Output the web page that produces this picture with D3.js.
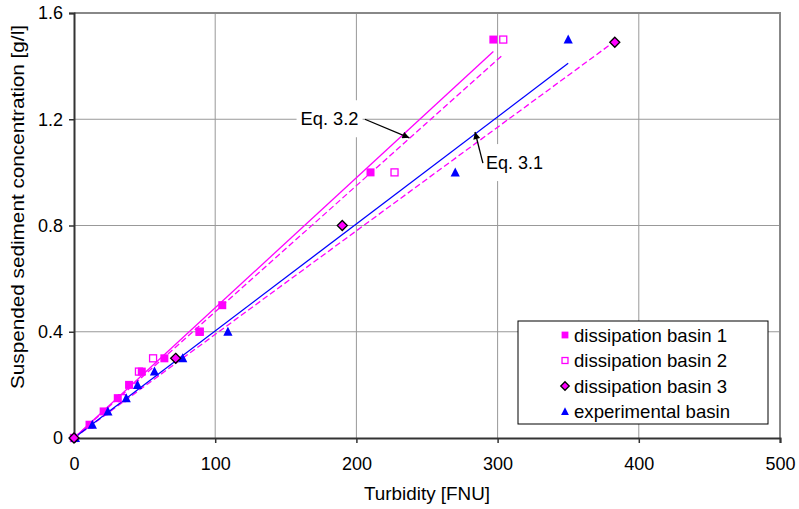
<!DOCTYPE html>
<html>
<head>
<meta charset="utf-8">
<script src="https://cdn.jsdelivr.net/npm/d3@7"></script>
<style>
  body { margin: 0; background: #fff; }
  text { font-family: "Liberation Sans", Arial, sans-serif; fill: #000; }
</style>
</head>
<body>
<div id="chart"></div>
<script>
// measured values
const basin1X = [0, 11, 21, 31, 39, 48, 64, 89, 105, 210, 297];
const basin1Y = [0, 0.05, 0.1, 0.15, 0.2, 0.25, 0.3, 0.4, 0.5, 1.0, 1.5];
const basin2X = [0, 34, 46, 56, 89, 227, 304];
const basin2Y = [0, 0.15, 0.25, 0.3, 0.4, 1.0, 1.5];
const basin3X = [0, 72, 190, 383];
const basin3Y = [0, 0.3, 0.8, 1.49];
const expX = [1, 13, 24, 37, 45, 57, 77, 109, 270, 350];
const expY = [0, 0.05, 0.1, 0.15, 0.2, 0.25, 0.3, 0.4, 1.0, 1.5];

const seriesNames = ["dissipation basin 1", "dissipation basin 2", "dissipation basin 3", "experimental basin"];

// trend lines y = slope * x, drawn from 0 to xMax
const trendSlope = [0.0049, 0.00475, 0.0039, 0.00403];
const trendXMax = [297, 304, 383, 350];

const xTicks = [0, 100, 200, 300, 400, 500];
const yTicks = [0, 0.4, 0.8, 1.2, 1.6];

// annotations: label, text pos, arrow tail, arrow tip (data units)
const eqLabels = ["Eq. 3.2", "Eq. 3.1"];
const eqText = [[181, 1.2], [312, 1.035]];
const eqTail = [[206, 1.2], [289.6, 1.035]];
const eqTip = [[237.5, 1.13], [284, 1.152]];

const width = 799, height = 509;
const margin = { left: 74, right: 19, top: 13, bottom: 71 };

const svg = d3.select("#chart").append("svg")
    .attr("width", width)
    .attr("height", height);

const x = d3.scaleLinear().domain([0, 500]).range([margin.left, width - margin.right]);
const y = d3.scaleLinear().domain([0, 1.6]).range([height - margin.bottom, margin.top]);

const MAG = "#ff00ff", BLUE = "#0000ff";

// grid
svg.append("g").selectAll("line").data(xTicks.slice(1))
    .enter().append("line")
    .attr("x1", d => x(d)).attr("x2", d => x(d))
    .attr("y1", y(0)).attr("y2", y(1.6))
    .attr("stroke", "#999").attr("stroke-width", 1);
svg.append("g").selectAll("line").data(yTicks.slice(1))
    .enter().append("line")
    .attr("x1", x(0)).attr("x2", x(500))
    .attr("y1", d => y(d)).attr("y2", d => y(d))
    .attr("stroke", "#999").attr("stroke-width", 1);

// top/right frame
svg.append("path")
    .attr("d", `M${x(0)},${y(1.6)}H${x(500)}V${y(0)}`)
    .attr("fill", "none").attr("stroke", "#888").attr("stroke-width", 2);

// axes
const xAxis = svg.append("g")
    .attr("transform", `translate(0,${y(0)})`)
    .call(d3.axisBottom(x).tickValues(xTicks).tickSize(5).tickPadding(14).tickFormat(d3.format("d")));
const yAxis = svg.append("g")
    .attr("transform", `translate(${x(0)},0)`)
    .call(d3.axisLeft(y).tickValues(yTicks).tickSize(5).tickPadding(6).tickFormat(d => d === 0 ? "0" : d3.format(".1f")(d)));
[xAxis, yAxis].forEach(g => {
    g.select(".domain").attr("stroke", "#333").attr("stroke-width", 2);
    g.selectAll(".tick line").attr("stroke", "#333").attr("stroke-width", 1.5);
    g.selectAll(".tick text").attr("font-size", 18).attr("fill", "#000")
        .style("font-family", '"Liberation Sans", Arial, sans-serif');
});

// axis titles
svg.append("text")
    .attr("x", (x(0) + x(500)) / 2).attr("y", 500)
    .attr("text-anchor", "middle").attr("font-size", 18)
    .attr("textLength", 126).attr("lengthAdjust", "spacingAndGlyphs")
    .text("Turbidity [FNU]");
svg.append("text")
    .attr("transform", `translate(24,207) rotate(-90)`)
    .attr("text-anchor", "middle").attr("font-size", 18.5)
    .attr("textLength", 364).attr("lengthAdjust", "spacingAndGlyphs")
    .text("Suspended sediment concentration [g/l]");

// trend lines
const trendColor = [MAG, MAG, MAG, BLUE];
const trendDash = [null, "6,3", "6,3", null];
const lineGen = d3.line().x(d => x(d[0])).y(d => y(d[1]));
trendSlope.forEach((s, i) => {
    svg.append("path")
        .attr("d", lineGen([[0, 0], [trendXMax[i], s * trendXMax[i]]]))
        .attr("fill", "none")
        .attr("stroke", trendColor[i])
        .attr("stroke-width", 1.3)
        .attr("stroke-dasharray", trendDash[i]);
});

// marker symbols
function drawMarker(g, kind, sc) {
    const s = sc || 1;
    if (kind === 0) {
        g.append("rect").attr("x", -4 * s).attr("y", -4 * s).attr("width", 8 * s).attr("height", 8 * s).attr("fill", MAG);
    } else if (kind === 1) {
        g.append("rect").attr("x", -3.5 * s).attr("y", -3.5 * s).attr("width", 7 * s).attr("height", 7 * s)
            .attr("fill", "#fff").attr("stroke", MAG).attr("stroke-width", 1.3);
    } else if (kind === 2) {
        g.append("path").attr("d", `M0,${-5 * s}L${5 * s},0L0,${5 * s}L${-5 * s},0Z`)
            .attr("fill", MAG).attr("stroke", "#000").attr("stroke-width", 1.3);
    } else {
        g.append("path").attr("d", `M0,${-5 * s}L${4.6 * s},${4 * s}L${-4.6 * s},${4 * s}Z`).attr("fill", BLUE);
    }
}

const seriesX = [basin1X, basin2X, basin3X, expX];
const seriesY = [basin1Y, basin2Y, basin3Y, expY];
[1, 0, 3, 2].forEach(k => {
    const pts = seriesX[k].map((v, i) => [v, seriesY[k][i]]);
    svg.append("g").selectAll("g").data(pts)
        .enter().append("g")
        .attr("transform", d => `translate(${x(d[0])},${y(d[1])})`)
        .each(function () { drawMarker(d3.select(this), k); });
});

// annotations
svg.append("defs").append("marker")
    .attr("id", "arr").attr("viewBox", "0 0 10 10")
    .attr("refX", 10).attr("refY", 5)
    .attr("markerWidth", 9).attr("markerHeight", 7)
    .attr("markerUnits", "userSpaceOnUse")
    .attr("orient", "auto")
    .append("path").attr("d", "M0,0L10,5L0,10Z").attr("fill", "#000");

const eqWidth = [58, 57];
eqLabels.forEach((lab, i) => {
    const tx = x(eqText[i][0]), ty = y(eqText[i][1]);
    const ann = svg.append("g");
    const t = ann.append("text")
        .attr("x", tx).attr("y", ty + 6)
        .attr("text-anchor", "middle").attr("font-size", 18.5)
        .attr("textLength", eqWidth[i]).attr("lengthAdjust", "spacingAndGlyphs")
        .text(lab);
    const bb = t.node().getBBox();
    ann.insert("rect", "text")
        .attr("x", bb.x - 4).attr("y", bb.y - 8)
        .attr("width", bb.width + 8).attr("height", bb.height + 16)
        .attr("fill", "#fff");
    ann.append("line")
        .attr("x1", x(eqTail[i][0])).attr("y1", y(eqTail[i][1]))
        .attr("x2", x(eqTip[i][0])).attr("y2", y(eqTip[i][1]))
        .attr("stroke", "#000").attr("stroke-width", 1.3)
        .attr("marker-end", "url(#arr)");
});

// legend
const legWidth = [153, 153, 153, 156];
const leg = svg.append("g").attr("transform", "translate(518,321)");
leg.append("rect").attr("width", 250).attr("height", 103)
    .attr("fill", "#fff").attr("stroke", "#000").attr("stroke-width", 1);
seriesNames.forEach((name, i) => {
    const row = leg.append("g").attr("transform", `translate(47,${14 + i * 25.5})`);
    drawMarker(row, i, 0.85);
    row.append("text").attr("x", 9).attr("y", 6.5).attr("font-size", 18.5)
        .attr("textLength", legWidth[i]).attr("lengthAdjust", "spacingAndGlyphs")
        .text(name);
});
</script>
</body>
</html>
